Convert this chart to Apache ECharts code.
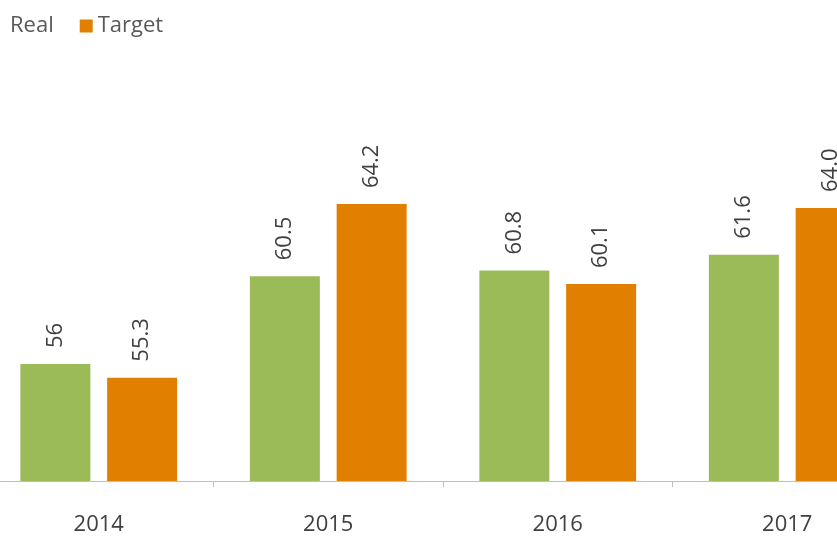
<!DOCTYPE html>
<html>
<head>
<meta charset="utf-8">
<script src="https://cdn.jsdelivr.net/npm/echarts@6/dist/echarts.min.js"></script>
<style>
  html, body { margin: 0; padding: 0; background: #fff; overflow: hidden; width: 837px; height: 536px; }
  /* the reference is a crop of a wider chart, so the canvas runs past both edges */
  #chart { position: absolute; left: -16px; top: 0; width: 918px; height: 536px; }
</style>
</head>
<body>
<div id="chart"></div>
<script>
// values
var years = ['2014', '2015', '2016', '2017'];
var realValues = [56, 60.5, 60.8, 61.6];
var targetValues = [55.3, 64.2, 60.1, 64.0];

var myChart = echarts.init(document.getElementById('chart'));

var labelStyle = {
    show: true,
    position: 'top',
    rotate: 90,
    align: 'left',
    verticalAlign: 'middle',
    distance: 16,
    color: '#404040',
    fontSize: 22,
    fontFamily: 'Open Sans',
    formatter: function (p) {
        return p.seriesName === 'Target' && p.value === 64 ? '64.0' : String(p.value);
    }
};

var options = {
    animation: false,
    legend: {
        left: 3,
        top: 10,
        itemWidth: 13,
        itemHeight: 13,
        itemGap: 26,
        icon: 'rect',
        textStyle: {
            color: '#595959',
            fontSize: 22,
            fontFamily: 'Open Sans'
        },
        data: [
            { name: 'Real', icon: 'none' },
            { name: 'Target' }
        ]
    },
    grid: {
        left: 0,
        right: 0,
        top: 91,
        bottom: 55
    },
    xAxis: {
        type: 'category',
        data: years,
        axisLine: {
            lineStyle: { color: '#bfbfbf', width: 1 }
        },
        axisTick: {
            show: true,
            length: 6,
            lineStyle: { color: '#bfbfbf' }
        },
        axisLabel: {
            margin: 33,
            color: '#404040',
            fontSize: 22,
            fontFamily: 'Open Sans'
        }
    },
    yAxis: {
        type: 'value',
        min: 50,
        max: 70,
        show: false,
        splitLine: { show: false }
    },
    series: [
        {
            name: 'Real',
            type: 'bar',
            barWidth: 70,
            barGap: '24%',
            itemStyle: { color: '#9bbb59' },
            label: labelStyle,
            data: realValues
        },
        {
            name: 'Target',
            type: 'bar',
            barWidth: 70,
            itemStyle: { color: '#e07f00' },
            label: labelStyle,
            data: targetValues
        }
    ]
};

myChart.setOption(options);
</script>
</body>
</html>
